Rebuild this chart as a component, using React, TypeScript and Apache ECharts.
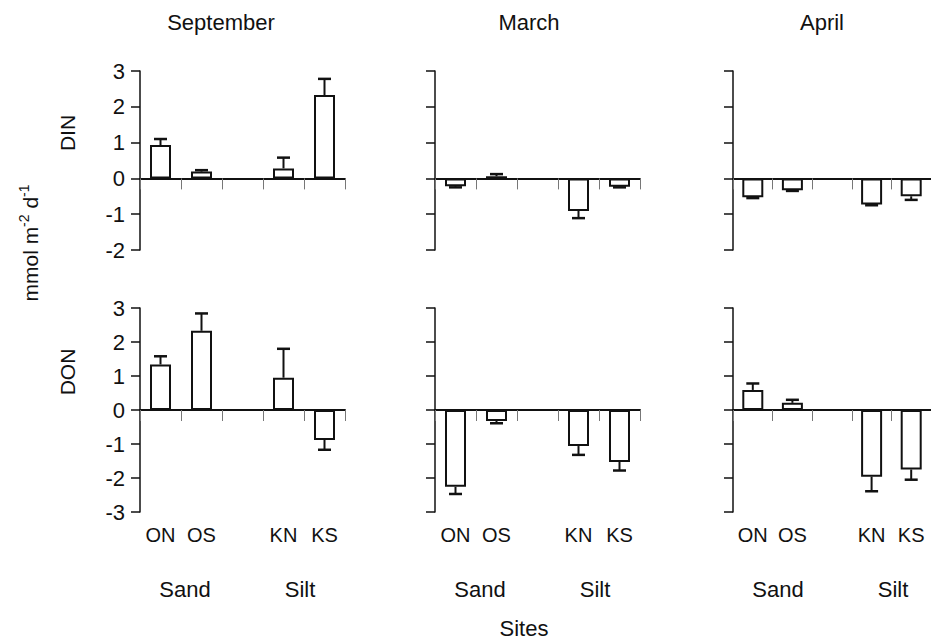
import React, { useEffect, useRef } from "react";
import * as echarts from "echarts";

const sites = ["ON", "OS", "", "KN", "KS"];
const months = ["September", "March", "April"];
const rowNames = ["DIN", "DON"];
const groups = ["Sand", "Silt"];

// DIN means and standard errors
const sepDIN = [0.93, 0.19, null, 0.28, 2.33];
const sepDINErr = [0.17, 0.04, null, 0.3, 0.45];
const marDIN = [-0.22, 0.06, null, -0.91, -0.23];
const marDINErr = [0.03, 0.06, null, 0.2, 0.02];
const aprDIN = [-0.53, -0.33, null, -0.73, -0.5];
const aprDINErr = [0.02, 0.02, null, 0.02, 0.1];
// DON means and standard errors
const sepDON = [1.34, 2.33, null, 0.95, -0.88];
const sepDONErr = [0.24, 0.51, null, 0.85, 0.29];
const marDON = [-2.26, -0.32, null, -1.06, -1.53];
const marDONErr = [0.21, 0.07, null, 0.26, 0.25];
const aprDON = [0.59, 0.21, null, -1.96, -1.75];
const aprDONErr = [0.19, 0.09, null, 0.43, 0.3];

const yTop = { min: -2, max: 3 };
const yBottom = { min: -3, max: 3 };

const FONT = "'Liberation Sans', Arial, Helvetica, sans-serif";

export default function App() {
  const ref = useRef<HTMLDivElement>(null);
  useEffect(() => {
    document.body.style.margin = "0";
    if (!ref.current) return;
    const chart = echarts.init(ref.current, undefined, { renderer: "svg" });

    const means = [sepDIN, marDIN, aprDIN, sepDON, marDON, aprDON];
    const errs = [sepDINErr, marDINErr, aprDINErr, sepDONErr, marDONErr, aprDONErr];
    const lefts = [140, 435, 733];
    const tops = [71, 308];
    const heights = [179, 204];
    const W = 205;

    const grid: any[] = [];
    const xAxis: any[] = [];
    const yAxis: any[] = [];
    const series: any[] = [];

    for (let r = 0; r < 2; r++) {
      for (let c = 0; c < 3; c++) {
        const i = r * 3 + c;
        grid.push({ left: lefts[c], top: tops[r], width: W, height: heights[r] });
        xAxis.push({
          type: "category",
          gridIndex: i,
          data: sites,
          position: "top",
          boundaryGap: true,
          axisLine: { show: true, onZero: true, lineStyle: { color: "#111", width: 2 } },
          axisTick: { show: true, inside: true, length: 11, lineStyle: { color: "#777", width: 1 } },
          axisLabel: { show: false },
          splitLine: { show: false },
          z: 5,
        });
        xAxis.push({
          type: "category",
          gridIndex: i,
          data: sites,
          position: "bottom",
          boundaryGap: true,
          axisLine: { show: false, onZero: false },
          axisTick: { show: false },
          axisLabel: {
            show: r === 1,
            color: "#111",
            fontSize: 20,
            fontFamily: FONT,
            margin: 13,
            interval: 0,
          },
          splitLine: { show: false },
        });
        const yr = r === 0 ? yTop : yBottom;
        yAxis.push({
          type: "value",
          gridIndex: i,
          min: yr.min,
          max: yr.max,
          interval: 1,
          axisLine: { show: true, onZero: false, lineStyle: { color: "#111", width: 1.5 } },
          axisTick: { show: true, length: 9, lineStyle: { color: "#111", width: 1.5 } },
          axisLabel: {
            show: c === 0,
            color: "#111",
            fontSize: 22,
            fontFamily: FONT,
            margin: 15,
          },
          splitLine: { show: false },
        });
        series.push({
          type: "bar",
          xAxisIndex: 2 * i,
          yAxisIndex: i,
          data: means[i],
          barWidth: 21,
          itemStyle: { color: "#fff", borderColor: "#111", borderWidth: 2 },
          z: 2,
        });
        const ed: any[] = [];
        means[i].forEach((m, k) => {
          if (m !== null && errs[i][k] !== null) ed.push([k, m, errs[i][k]]);
        });
        series.push({
          type: "custom",
          xAxisIndex: 2 * i,
          yAxisIndex: i,
          data: ed,
          z: 3,
          renderItem: (params: any, api: any) => {
            const x = api.value(0);
            const m = api.value(1);
            const e = api.value(2);
            const end = m >= 0 ? m + e : m - e;
            const p0 = api.coord([x, m]);
            const p1 = api.coord([x, end]);
            const hw = 6.5;
            return {
              type: "group",
              children: [
                { type: "line", shape: { x1: p0[0], y1: p0[1], x2: p1[0], y2: p1[1] }, style: { stroke: "#111", lineWidth: 2 } },
                { type: "line", shape: { x1: p1[0] - hw, y1: p1[1], x2: p1[0] + hw, y2: p1[1] }, style: { stroke: "#111", lineWidth: 2.5 } },
              ],
            };
          },
        });
      }
    }

    const textStyle = (s: string, size: number) => ({
      text: s,
      fontSize: size,
      fontFamily: FONT,
      fill: "#111",
      align: "center",
      verticalAlign: "middle",
    });

    const graphic: any[] = [];
    const titleX = [221, 529, 822];
    months.forEach((m, c) => {
      graphic.push({ type: "text", x: titleX[c], y: 22, style: textStyle(m, 22) });
      graphic.push({ type: "text", x: lefts[c] + 45, y: 589, style: textStyle(groups[0], 22) });
      graphic.push({ type: "text", x: lefts[c] + 160, y: 589, style: textStyle(groups[1], 22) });
    });
    graphic.push({ type: "text", x: 67, y: 133, rotation: Math.PI / 2, style: textStyle(rowNames[0], 21) });
    graphic.push({ type: "text", x: 67, y: 372, rotation: Math.PI / 2, style: textStyle(rowNames[1], 21) });
    graphic.push({ type: "text", x: 524, y: 628, style: textStyle("Sites", 22) });
    graphic.push({
      type: "text",
      x: 30,
      y: 243,
      rotation: Math.PI / 2,
      style: {
        text: "{b|mmol m}{s|-2}{b| d}{s|-1}",
        fontFamily: FONT,
        fill: "#111",
        align: "center",
        verticalAlign: "middle",
        rich: {
          b: { fontSize: 21, fontFamily: FONT, fill: "#111" },
          s: { fontSize: 14, fontFamily: FONT, fill: "#111", padding: [0, 0, 12, 0] },
        },
      },
    });

    chart.setOption({
      animation: false,
      backgroundColor: "#fff",
      grid,
      xAxis,
      yAxis,
      series,
      graphic,
    });
    return () => chart.dispose();
  }, []);
  return <div ref={ref} style={{ width: 931, height: 643 }} />;
}
